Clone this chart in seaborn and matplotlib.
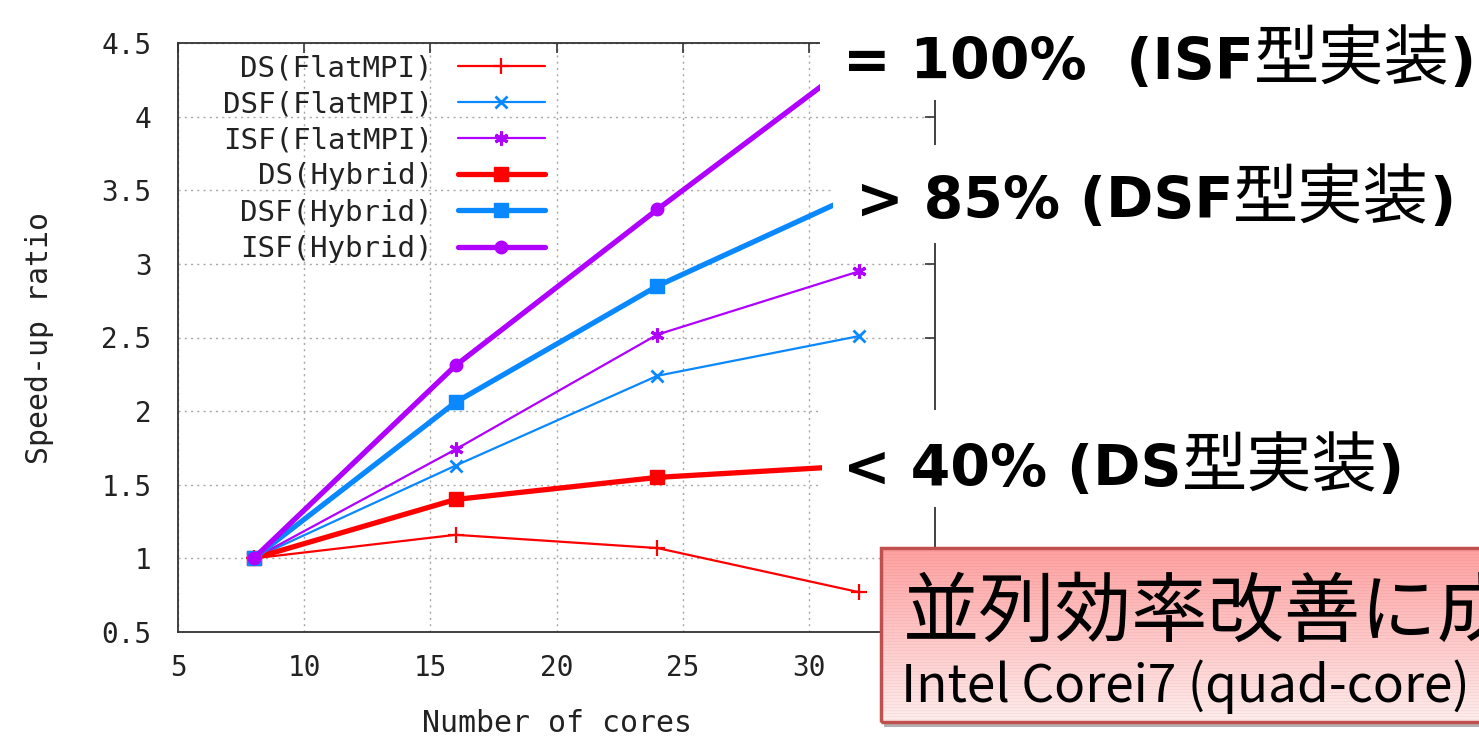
import numpy as np
import matplotlib
matplotlib.use("Agg")
import matplotlib.pyplot as plt
from matplotlib.patches import Rectangle
import seaborn as sns

# ---- data -------------------------------------------------------------
cores = [8, 16, 24, 32]
ds_flatmpi = [1.00, 1.16, 1.07, 0.77]
dsf_flatmpi = [1.00, 1.63, 2.24, 2.51]
isf_flatmpi = [1.00, 1.74, 2.52, 2.95]
ds_hybrid = [1.00, 1.40, 1.55, 1.63]
dsf_hybrid = [1.00, 2.06, 2.85, 3.48]
isf_hybrid = [1.00, 2.31, 3.37, 4.40]

series_names = ["DS(FlatMPI)", "DSF(FlatMPI)", "ISF(FlatMPI)",
                "DS(Hybrid)", "DSF(Hybrid)", "ISF(Hybrid)"]
series_values = [ds_flatmpi, dsf_flatmpi, isf_flatmpi,
                 ds_hybrid, dsf_hybrid, isf_hybrid]

x_ticks = [5, 10, 15, 20, 25, 30, 35]
x_tick_labels = ["5", "10", "15", "20", "25", "30", ""]
y_ticks = [0.5, 1, 1.5, 2, 2.5, 3, 3.5, 4, 4.5]
y_tick_labels = ["0.5", "1", "1.5", "2", "2.5", "3", "3.5", "4", "4.5"]

x_label = "Number of cores"
y_label = "Speed-up ratio"

note_isf = [("= 100%  (ISF", "bold"), ("型実装", "cjk"), (")", "bold")]
note_dsf = [("> 85% (DSF", "bold"), ("型実装", "cjk"), (")", "bold")]
note_ds = [("< 40% (DS", "bold"), ("型実装", "cjk"), (")", "bold")]
box_title = "並列効率改善に成功"
box_subtitle = "Intel Corei7 (quad-core)"

# ---- styling ----------------------------------------------------------
RED = "#ff0000"
BLUE = "#0a88ff"
PURPLE = "#b000ff"

styles = [
    dict(color=RED, marker="+", lw=1.6, ms=11, mew=1.6),
    dict(color=BLUE, marker="x", lw=1.6, ms=8, mew=2.0),
    dict(color=PURPLE, marker=(6, 2, 0), lw=1.6, ms=10, mew=2.2),
    dict(color=RED, marker="s", lw=3.8, ms=10, mew=1.0),
    dict(color=BLUE, marker="s", lw=3.8, ms=10, mew=1.0),
    dict(color=PURPLE, marker="o", lw=3.8, ms=9, mew=1.0),
]

sns.set_theme(style="white")
plt.rcParams["font.family"] = ["DejaVu Sans Mono", "Noto Sans CJK JP"]

W, H = 1479, 738
fig = plt.figure(figsize=(W / 100, H / 100), dpi=100)
fig.patch.set_facecolor("white")


def fx(px):
    return px / W


def fy(py):
    return 1 - py / H


ax = fig.add_axes([fx(178), fy(632), fx(935) - fx(178), fy(43) - fy(632)])
ax.set_facecolor("white")

for name, vals, st in zip(series_names, series_values, styles):
    sns.lineplot(x=cores, y=vals, ax=ax, label=name, color=st["color"],
                 marker=st["marker"], linewidth=st["lw"], markersize=st["ms"],
                 markeredgewidth=st["mew"], markeredgecolor=st["color"],
                 markerfacecolor=st["color"])

ax.set_xlim(5, 35)
ax.set_ylim(0.5, 4.5)
ax.set_xticks(x_ticks)
ax.set_xticklabels(x_tick_labels)
ax.set_yticks(y_ticks)
ax.set_yticklabels(y_tick_labels)
ax.tick_params(axis="both", which="major", direction="in", length=7, width=1.2,
               color="#333333", top=True, right=True, labelsize=20,
               labelcolor="#222222")
ax.tick_params(axis="x", pad=16)
ax.tick_params(axis="y", pad=19)
ax.grid(True, color="#a8a8a8", linestyle=(0, (1.5, 3)), linewidth=1.0)
for sp in ax.spines.values():
    sp.set_visible(True)
    sp.set_color("#333333")
    sp.set_linewidth(1.3)

ax.set_xlabel(x_label, fontsize=21.5, color="#222222", labelpad=19)
ax.set_ylabel(y_label, fontsize=21.5, color="#222222", labelpad=34)

# label text sits to the left of each line sample, right-justified
leg = ax.legend(loc="upper right", bbox_to_anchor=(fx(545), fy(54)),
                bbox_transform=fig.transFigure, markerfirst=False,
                frameon=False, numpoints=1, handlelength=3.0,
                handletextpad=0.85, labelspacing=0.28, fontsize=21,
                borderpad=0, borderaxespad=0)
for t in leg.get_texts():
    t.set_color("#222222")

fig.canvas.draw()
renderer = fig.canvas.get_renderer()

# ---- white panels behind the callouts --------------------------------
for x0, y0, y1 in [(820, 0, 100), (833, 145, 243), (822, 410, 507)]:
    fig.add_artist(Rectangle((fx(x0), fy(y1)), 1 - fx(x0), fy(y0) - fy(y1),
                             transform=fig.transFigure, facecolor="white",
                             edgecolor="none", zorder=5))


def rich_text(x_px, base_px, parts, size, cjk_size):
    x = x_px
    for s, kind in parts:
        if kind == "bold":
            props = dict(family=["DejaVu Sans"], weight="bold", fontsize=size)
        else:
            props = dict(family=["Noto Sans CJK JP"], weight="normal",
                         fontsize=cjk_size)
        t = fig.text(x / W, fy(base_px), s, ha="left", va="baseline",
                     color="black", zorder=9, **props)
        fig.canvas.draw()
        x = t.get_window_extent(renderer).x1


rich_text(843, 79, note_isf, 41, 47)
rich_text(856, 218, note_dsf, 41, 47)
rich_text(843, 486, note_ds, 41, 47)

# ---- highlighted result box ------------------------------------------
bx0, by0, by1 = 881, 548, 722
fig.add_artist(Rectangle((fx(bx0 + 3), fy(by1 + 5)), 1.0, fy(by0) - fy(by1),
                         transform=fig.transFigure, facecolor="#b0b0b0",
                         edgecolor="none", zorder=6))
box_ax = fig.add_axes([fx(bx0), fy(by1), 1.02 - fx(bx0), fy(by0) - fy(by1)],
                      zorder=7)
rows = by1 - by0
top_c = np.array([255, 160, 160]) / 255
bot_c = np.array([255, 236, 236]) / 255
tt = np.linspace(0, 1, rows)[:, None]
grad = top_c[None, :] * (1 - tt) + bot_c[None, :] * tt
stripe = np.where(np.arange(rows) % 3 == 0, 0.965, 1.0)[:, None]
grad = np.clip(grad * stripe, 0, 1)
img = np.repeat(grad[:, None, :], 4, axis=1)
box_ax.imshow(img, aspect="auto", extent=[0, 1, 0, 1], interpolation="nearest")
box_ax.set_xlim(0, 1)
box_ax.set_ylim(0, 1)
box_ax.axis("off")
box_ax.add_patch(Rectangle((0, 0), 1, 1, transform=box_ax.transAxes,
                           facecolor="none", edgecolor="#c0504d", lw=2.5,
                           clip_on=False))

fig.text(fx(903), fy(636), box_title, ha="left", va="baseline", fontsize=55,
         family=["Noto Sans CJK JP"], color="black", zorder=9)
fig.text(fx(901), fy(702), box_subtitle, ha="left", va="baseline", fontsize=37,
         family=["Noto Sans CJK JP"], color="black", zorder=9)

fig.savefig("out.png", dpi=100, facecolor="white")
